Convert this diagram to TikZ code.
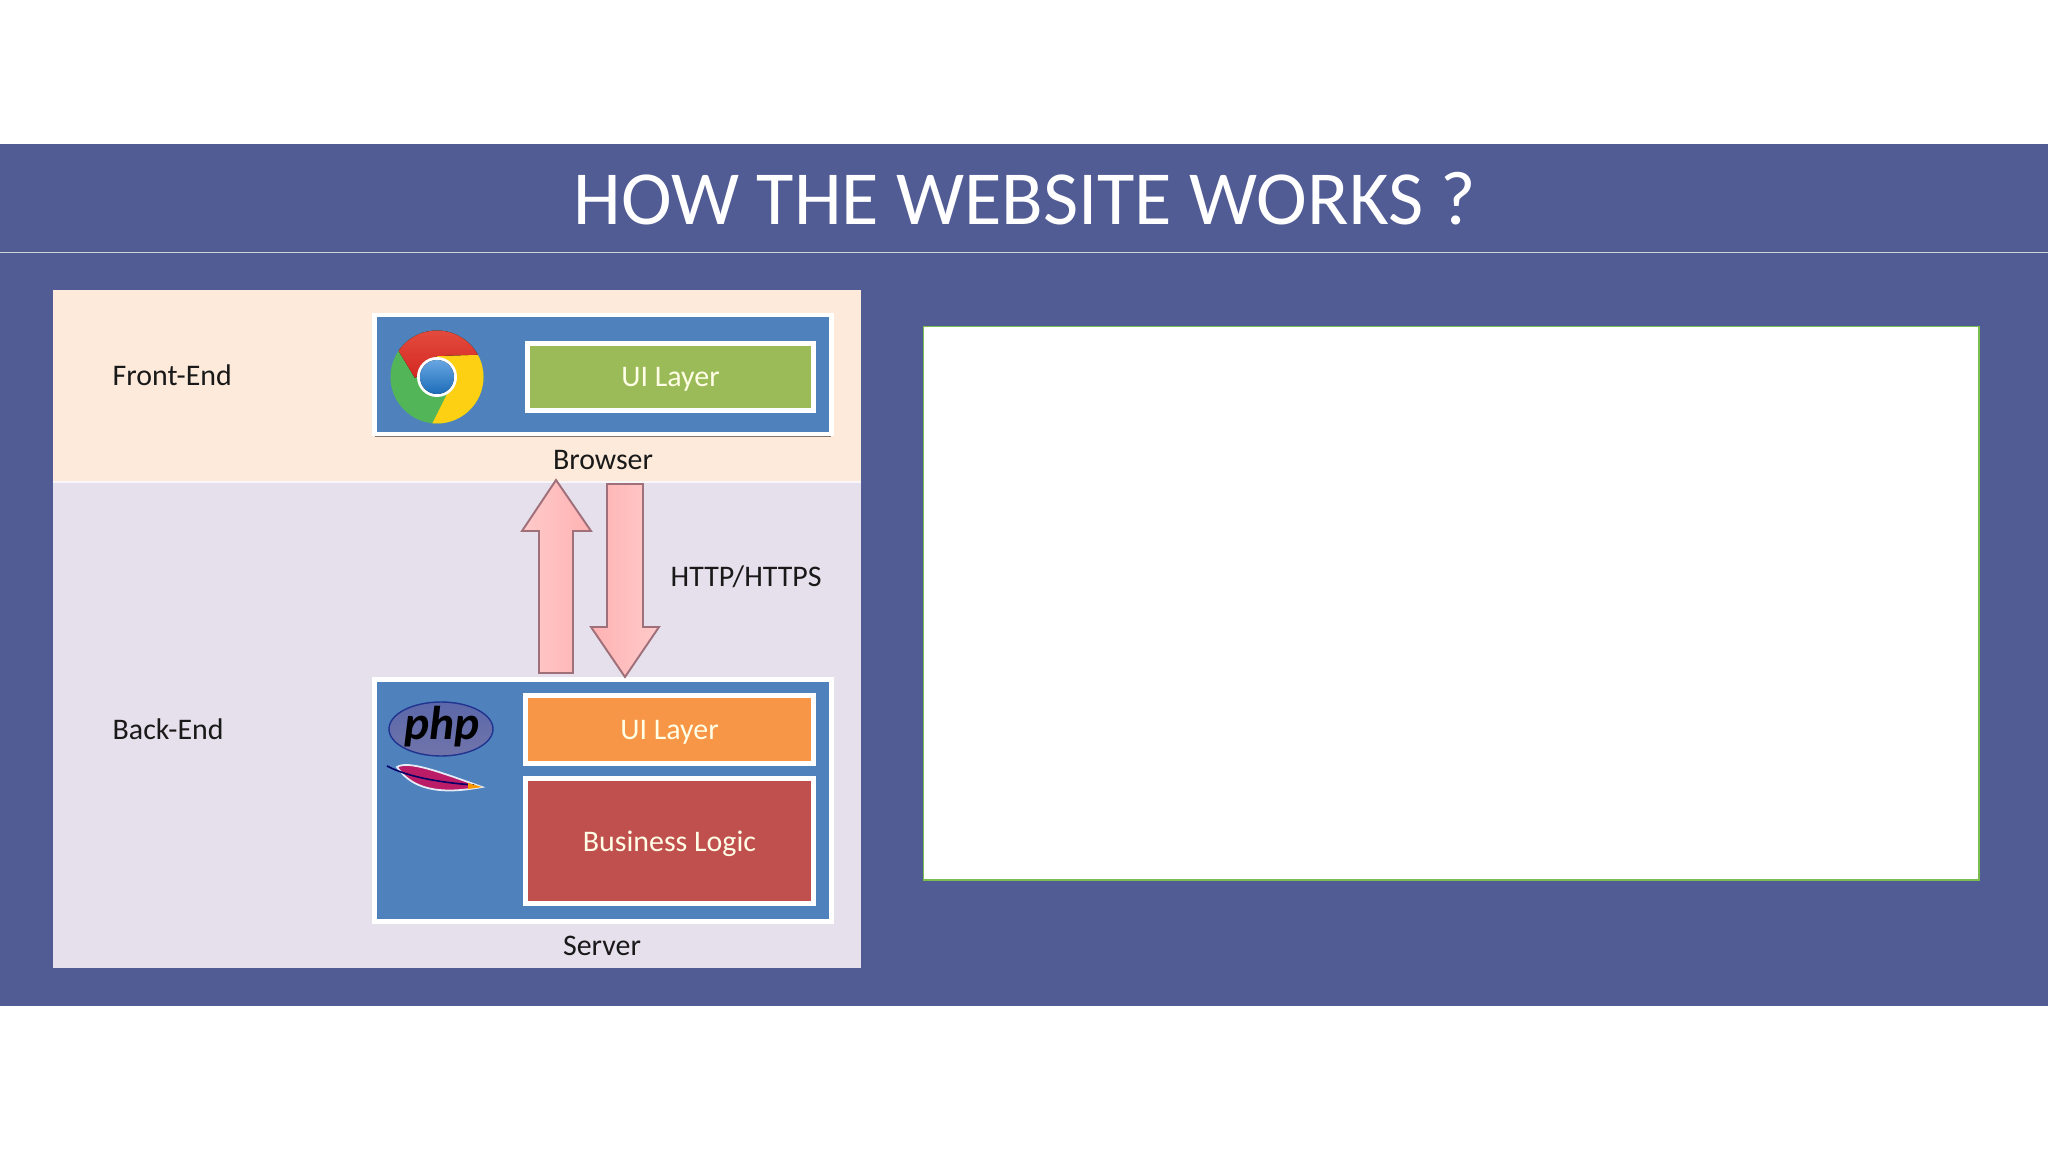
\documentclass[tikz,border=0pt]{standalone}
\usepackage{fontspec}
\setmainfont{Carlito}
\usetikzlibrary{shadows}
\definecolor{bandblue}{HTML}{515B94}
\definecolor{bandline}{HTML}{C9D3CF}
\definecolor{frontfill}{HTML}{FDEADA}
\definecolor{backfill}{HTML}{E6E0EC}
\definecolor{hostblue}{HTML}{4F81BD}
\definecolor{uigreen}{HTML}{9BBB59}
\definecolor{uiorange}{HTML}{F79646}
\definecolor{logicred}{HTML}{C0504D}
\definecolor{arrowline}{HTML}{A0707A}
\definecolor{pinklight}{HTML}{FFD0D0}
\definecolor{pinkdark}{HTML}{FFB2B2}
\tikzset{
    framedbox/.style = {draw = white, line width = 1.4pt, inner sep = 0pt, text depth = 0pt, text = white!90!yellow, font = \fontsize{8.5}{10}\selectfont,
        drop shadow = {shadow xshift = 0pt, shadow yshift = -0.8pt, opacity = 0.5, fill = black}},
    plainlabel/.style = {inner sep = 0pt, text = black!90, font = \fontsize{8.5}{10}\selectfont},
    pinkarrow/.style = {draw = arrowline, line width = 0.55pt, line join = miter}
}
\begin{document}
\begin{tikzpicture}[x = 0.01cm, y = -0.01cm]
    \useasboundingbox (0, 0) rectangle (2048, 1152);
    \fill[white] (0, 0) rectangle (2048, 1152);
    % title band
    \fill[bandblue] (0, 144) rectangle (2048, 1006);
    \draw[bandline, line width = 0.3pt] (0, 252.5) -- (2048, 252.5);
    \node[inner sep = 0pt, text = white, font = \fontsize{21.75}{26}\selectfont] (title) at (1025, 199) {HOW THE WEBSITE WORKS ?};
    % left panel
    \fill[frontfill] (52.5, 290) rectangle (861, 482);
    \fill[backfill] (52.5, 482) rectangle (861, 968);
    \draw[white!70!backfill, line width = 0.3pt] (52.5, 482) -- (861, 482);
    \node[plainlabel, anchor = west] (frontend) at (112, 375) {Front-End};
    \node[plainlabel, anchor = west] (backend) at (112, 729) {Back-End};
    \node[plainlabel] (browserlabel) at (603, 460) {Browser};
    \node[plainlabel] (serverlabel) at (602, 946) {Server};
    \node[plainlabel, anchor = west] (httplabel) at (670, 577) {HTTP/HTTPS};
    % browser and server
    \node[framedbox, fill = hostblue, minimum width = 4.56cm, minimum height = 1.19cm] (browser) at (603, 374.5) {};
    \node[framedbox, fill = hostblue, minimum width = 4.56cm, minimum height = 2.41cm] (server) at (603, 800.5) {};
    \node[framedbox, fill = uigreen, minimum width = 2.86cm, minimum height = 0.67cm] (uifront) at (670.5, 377) {UI Layer};
    \node[framedbox, fill = uiorange, minimum width = 2.88cm, minimum height = 0.68cm] (uiback) at (669.5, 729.5) {UI Layer};
    \node[framedbox, fill = logicred, minimum width = 2.88cm, minimum height = 1.25cm] (logic) at (669.5, 841) {Business Logic};
    % chrome logo
    \begin{scope}
        \clip (437, 377) circle (46.5);
        \fill[fill = {rgb,255:red,82;green,182;blue,88}] (437, 377) circle (46.5);
        \fill[fill = {rgb,255:red,254;green,208;blue,20}] (437, 356) -- (500, 354) -- (500, 440) -- (424, 440) -- (448, 392) -- cycle;
        \fill[top color = {rgb,255:red,236;green,96;blue,78}, bottom color = {rgb,255:red,212;green,40;blue,34}] (415, 378) -- (368, 300) -- (500, 300) -- (500, 354) -- (437, 356) -- cycle;
    \end{scope}
    \fill[white] (437, 377) circle (20);
    \fill[top color = {rgb,255:red,104;green,166;blue,226}, bottom color = {rgb,255:red,28;green,108;blue,184}] (437, 377) circle (17);
    % php logo
    \filldraw[draw = black!55!blue!60!hostblue, top color = {rgb,255:red,92;green,104;blue,170}, bottom color = {rgb,255:red,112;green,116;blue,170}, line width = 0.4pt] (441, 729) ellipse (52 and 27);
    \node[inner sep = 0pt, text = black, font = \fontsize{13.5}{15}\selectfont\bfseries\itshape] (phplabel) at (442, 727) {php};
    % feather
    \filldraw[draw = white!85!hostblue, fill = {rgb,255:red,186;green,28;blue,104}, line width = 0.5pt] (397, 767) .. controls (408, 760) and (440, 772) .. (482, 787) .. controls (450, 793) and (415, 794) .. (397, 767) -- cycle;
    \draw[black!60!blue, line width = 0.45pt] (387, 766) .. controls (410, 778) and (445, 783) .. (474, 785);
    \fill[orange!80!yellow] (468, 783) -- (482, 787) -- (468, 789) -- cycle;
    % request and response arrows
    \filldraw[pinkarrow, left color = pinklight!80!pinkdark, middle color = pinklight, right color = pinkdark] (556, 480) -- (591, 531) -- (573, 531) -- (573, 673) -- (539, 673) -- (539, 531) -- (522, 531) -- cycle;
    \filldraw[pinkarrow, left color = pinkdark, middle color = pinklight, right color = pinklight!80!pinkdark] (607, 484) -- (643, 484) -- (643, 627) -- (659, 627) -- (625, 677) -- (591, 627) -- (607, 627) -- cycle;
    % content placeholder
    \filldraw[draw = {rgb,255:red,122;green,190;blue,80}, fill = white, line width = 0.4pt] (923.5, 326.5) rectangle (1979, 880);
\end{tikzpicture}
\end{document}
